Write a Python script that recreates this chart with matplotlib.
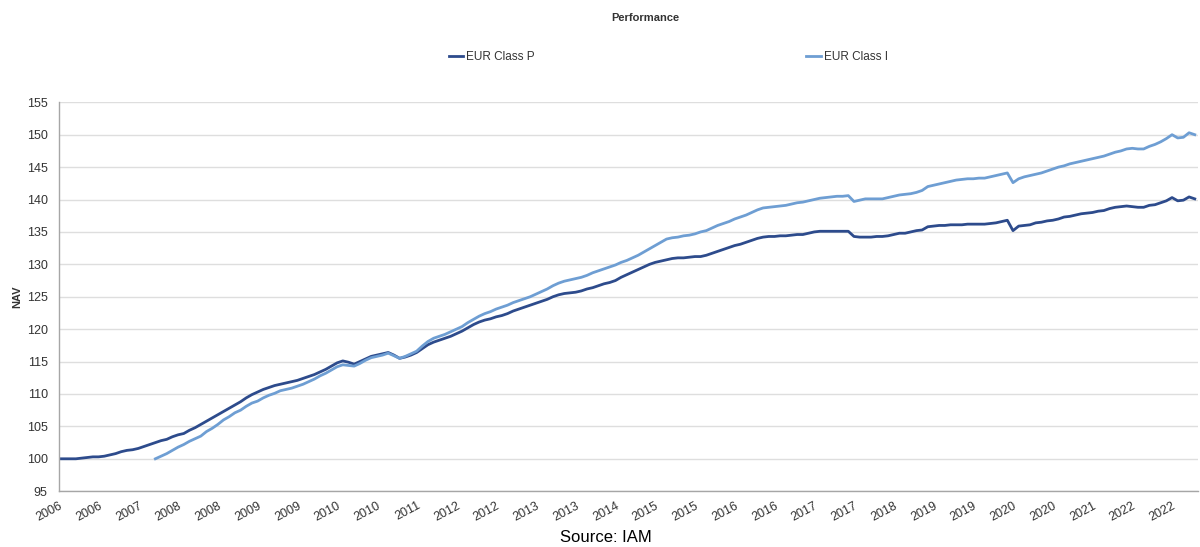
import matplotlib
matplotlib.use("Agg")
import matplotlib.pyplot as plt
import numpy as np

plt.rcParams['font.family'] = ['Liberation Sans', 'DejaVu Sans']

# Monthly NAV, first month = Apr 2006
class_p = [
    100.0, 100.0, 100.0, 100.0, 100.1, 100.2, 100.3, 100.3, 100.4, 100.6,
    100.8, 101.1, 101.3, 101.4, 101.6, 101.9, 102.2, 102.5, 102.8, 103.0,
    103.4, 103.7, 103.9, 104.4, 104.8, 105.3, 105.8, 106.3, 106.8, 107.3,
    107.8, 108.3, 108.8, 109.4, 109.9, 110.3, 110.7, 111.0, 111.3, 111.5,
    111.7, 111.9, 112.1, 112.4, 112.7, 113.0, 113.4, 113.8, 114.3, 114.8,
    115.1, 114.9, 114.6, 115.0, 115.4, 115.8, 116.0, 116.2, 116.4, 116.0,
    115.5, 115.7, 116.0, 116.4, 117.0, 117.6, 118.0, 118.3, 118.6, 118.9,
    119.3, 119.7, 120.2, 120.7, 121.1, 121.4, 121.6, 121.9, 122.1, 122.4,
    122.8, 123.1, 123.4, 123.7, 124.0, 124.3, 124.6, 125.0, 125.3, 125.5,
    125.6, 125.7, 125.9, 126.2, 126.4, 126.7, 127.0, 127.2, 127.5, 128.0,
    128.4, 128.8, 129.2, 129.6, 130.0, 130.3, 130.5, 130.7, 130.9, 131.0,
    131.0, 131.1, 131.2, 131.2, 131.4, 131.7, 132.0, 132.3, 132.6, 132.9,
    133.1, 133.4, 133.7, 134.0, 134.2, 134.3, 134.3, 134.4, 134.4, 134.5,
    134.6, 134.6, 134.8, 135.0, 135.1, 135.1, 135.1, 135.1, 135.1, 135.1,
    134.3, 134.2, 134.2, 134.2, 134.3, 134.3, 134.4, 134.6, 134.8, 134.8,
    135.0, 135.2, 135.3, 135.8, 135.9, 136.0, 136.0, 136.1, 136.1, 136.1,
    136.2, 136.2, 136.2, 136.2, 136.3, 136.4, 136.6, 136.8, 135.2, 135.9,
    136.0, 136.1, 136.4, 136.5, 136.7, 136.8, 137.0, 137.3, 137.4, 137.6,
    137.8, 137.9, 138.0, 138.2, 138.3, 138.6, 138.8, 138.9, 139.0, 138.9,
    138.8, 138.8, 139.1, 139.2, 139.5, 139.8, 140.3, 139.8, 139.9, 140.4,
    140.1,
]

class_i_start = 17  # Class I launched 17 months after the series start
class_i = [
    100.0, 100.4, 100.8, 101.3, 101.8, 102.2, 102.7, 103.1, 103.5, 104.2,
    104.7, 105.3, 106.0, 106.5, 107.1, 107.5, 108.1, 108.6, 108.9, 109.4,
    109.8, 110.1, 110.5, 110.7, 110.9, 111.2, 111.5, 111.9, 112.3, 112.8,
    113.2, 113.7, 114.2, 114.5, 114.4, 114.3, 114.7, 115.2, 115.6, 115.8,
    116.0, 116.3, 115.9, 115.5, 115.8, 116.2, 116.6, 117.4, 118.1, 118.6,
    118.9, 119.2, 119.6, 120.0, 120.4, 121.0, 121.5, 122.0, 122.4, 122.7,
    123.1, 123.4, 123.7, 124.1, 124.4, 124.7, 125.0, 125.4, 125.8, 126.2,
    126.7, 127.1, 127.4, 127.6, 127.8, 128.0, 128.3, 128.7, 129.0, 129.3,
    129.6, 129.9, 130.3, 130.6, 131.0, 131.4, 131.9, 132.4, 132.9, 133.4,
    133.9, 134.1, 134.2, 134.4, 134.5, 134.7, 135.0, 135.2, 135.6, 136.0,
    136.3, 136.6, 137.0, 137.3, 137.6, 138.0, 138.4, 138.7, 138.8, 138.9,
    139.0, 139.1, 139.3, 139.5, 139.6, 139.8, 140.0, 140.2, 140.3, 140.4,
    140.5, 140.5, 140.6, 139.7, 139.9, 140.1, 140.1, 140.1, 140.1, 140.3,
    140.5, 140.7, 140.8, 140.9, 141.1, 141.4, 142.0, 142.2, 142.4, 142.6,
    142.8, 143.0, 143.1, 143.2, 143.2, 143.3, 143.3, 143.5, 143.7, 143.9,
    144.1, 142.6, 143.2, 143.5, 143.7, 143.9, 144.1, 144.4, 144.7, 145.0,
    145.2, 145.5, 145.7, 145.9, 146.1, 146.3, 146.5, 146.7, 147.0, 147.3,
    147.5, 147.8, 147.9, 147.8, 147.8, 148.2, 148.5, 148.9, 149.4, 150.0,
    149.5, 149.6, 150.3, 150.0,
]

tick_labels = ['2006', '2006', '2007', '2008', '2008', '2009', '2009', '2010',
               '2010', '2011', '2012', '2012', '2013', '2013', '2014', '2015',
               '2015', '2016', '2016', '2017', '2017', '2018', '2019', '2019',
               '2020', '2020', '2021', '2022', '2022']
tick_step = 7  # months between labels

col_p = '#2D4B8C'
col_i = '#6E9ED3'

fig = plt.figure(figsize=(12, 5.47), dpi=100)
ax = fig.add_axes([0.049, 0.102, 0.949, 0.711])

x_p = np.arange(len(class_p))
x_i = np.arange(class_i_start, class_i_start + len(class_i))

ax.plot(x_p, class_p, color=col_p, lw=2.0, label='EUR Class P', solid_joinstyle='round')
ax.plot(x_i, class_i, color=col_i, lw=2.0, label='EUR Class I', solid_joinstyle='round')

ax.set_xlim(0, len(class_p) - 0.5)
ax.set_ylim(95, 155)
ax.set_yticks(np.arange(95, 156, 5))
ax.grid(axis='y', color='#dedede', lw=1.0)
ax.set_axisbelow(True)

ticks = np.arange(len(tick_labels)) * tick_step
ax.set_xticks(ticks)
ax.set_xticklabels(tick_labels, rotation=28, ha='right', rotation_mode='anchor')

for s in ['top', 'right']:
    ax.spines[s].set_visible(False)
for s in ['left', 'bottom']:
    ax.spines[s].set_color('#a6a6a6')
    ax.spines[s].set_linewidth(1.0)

ax.tick_params(axis='both', length=0, labelsize=9, colors='#333333')
ax.tick_params(axis='x', pad=6)
ax.tick_params(axis='y', pad=8)

ax.set_ylabel('NAV', fontsize=8, fontweight='bold', color='#333333', labelpad=3)

fig.text(0.538, 0.968, 'Performance', ha='center', va='center',
         fontsize=8, fontweight='bold', color='#333333')

leg = fig.legend(loc='center', bbox_to_anchor=(0.557, 0.896), ncol=2, frameon=False,
                 fontsize=8.5, handlelength=1.2, handletextpad=0.3,
                 columnspacing=23.0)
for t in leg.get_texts():
    t.set_color('#333333')

fig.text(0.505, 0.017, 'Source: IAM', ha='center', va='center',
         fontsize=12, color='black')

fig.savefig('out.png', dpi=100)
